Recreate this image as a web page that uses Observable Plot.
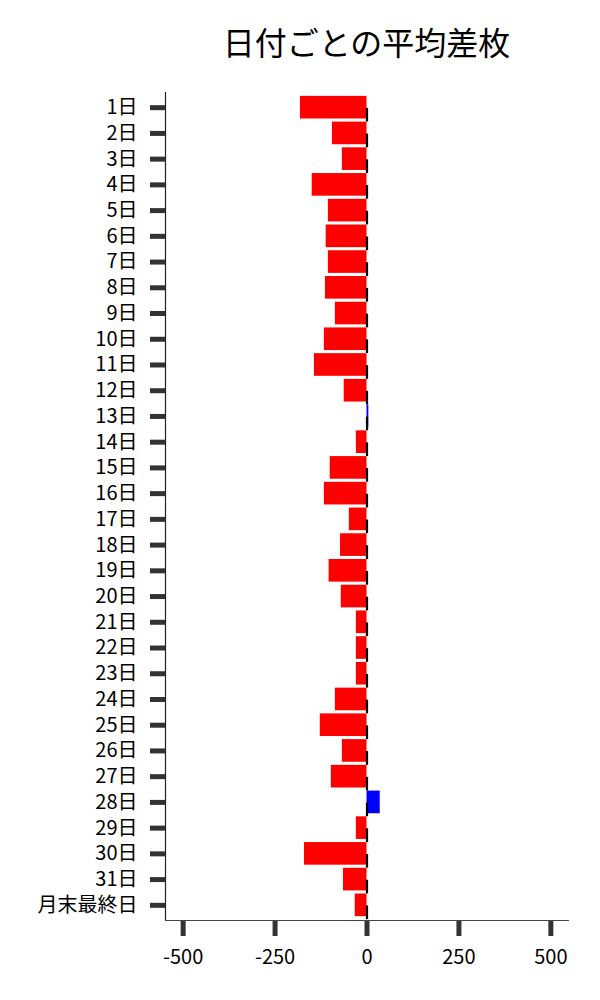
<!DOCTYPE html>
<html>
<head>
<meta charset="utf-8">
<script src="https://cdn.jsdelivr.net/npm/d3@7"></script>
<script src="https://cdn.jsdelivr.net/npm/@observablehq/plot@0.6"></script>
<style>
  html, body { margin: 0; padding: 0; background: #fff; }
  #title {
    width: 403px; margin-left: 165px; height: 80px; box-sizing: border-box;
    padding-top: 25px; line-height: 32px; font-size: 32px; text-align: center;
    font-family: "Noto Sans CJK JP", "Noto Sans", sans-serif; color: #000;
  }
  #chart svg { display: block; }
</style>
</head>
<body>
<div id="title">日付ごとの平均差枚</div>
<div id="chart"></div>
<script>
const days = ["1日","2日","3日","4日","5日","6日","7日","8日","9日","10日","11日","12日","13日","14日","15日","16日","17日","18日","19日","20日","21日","22日","23日","24日","25日","26日","27日","28日","29日","30日","31日","月末最終日"];
const avgDiff = [-181,-94,-67,-149,-105,-111,-105,-113,-86,-116,-143,-62,5,-29,-100,-116,-48,-72,-103,-70,-29,-29,-29,-86,-127,-67,-97,36,-29,-170,-64,-32];
const xTicks = [-500,-250,0,250,500];
const xDomain = [-548, 548];

const data = days.map((d, i) => ({day: d, value: avgDiff[i]}));

const W = 600, H = 920, mL = 165, mR = 32, mT = 12, mB = 80;

const chart = Plot.plot({
  width: W, height: H,
  marginLeft: mL, marginRight: mR, marginTop: mT, marginBottom: mB,
  style: {fontFamily: "'Noto Sans CJK JP', 'Noto Sans', sans-serif", fontSize: "20px", background: "#fff", color: "#000"},
  x: {domain: xDomain, ticks: xTicks, label: null},
  y: {domain: days, paddingInner: 0.12, paddingOuter: 0.15, round: false, label: null},
  marks: [
    Plot.barX(data, {x: "value", y: "day", fill: d => d.value >= 0 ? "#0000ff" : "#ff0000"}),
    Plot.tickX(data, {x: () => 0, y: "day", dy: 8, insetTop: 4, insetBottom: 5, stroke: "#000", strokeWidth: 2.2}),
    Plot.ruleX([xDomain[0]], {stroke: "#222", strokeWidth: 1.2}),
    Plot.axisY({tickSize: 15, tickPadding: 13, stroke: "#333", strokeWidth: 5, fill: "#000", fontSize: 20, label: null}),
    Plot.axisX({ticks: xTicks, tickSize: 16, tickPadding: 13, stroke: "#333", strokeWidth: 5, fill: "#000", fontSize: 20, label: null, tickFormat: d => String(d)})
  ]
});

// bottom axis line
d3.select(chart).append("line")
  .attr("x1", mL).attr("x2", W - mR + 1)
  .attr("y1", H - mB + 0.5).attr("y2", H - mB + 0.5)
  .attr("stroke", "#444").attr("stroke-width", 1.2);

document.getElementById("chart").appendChild(chart);
</script>
</body>
</html>
